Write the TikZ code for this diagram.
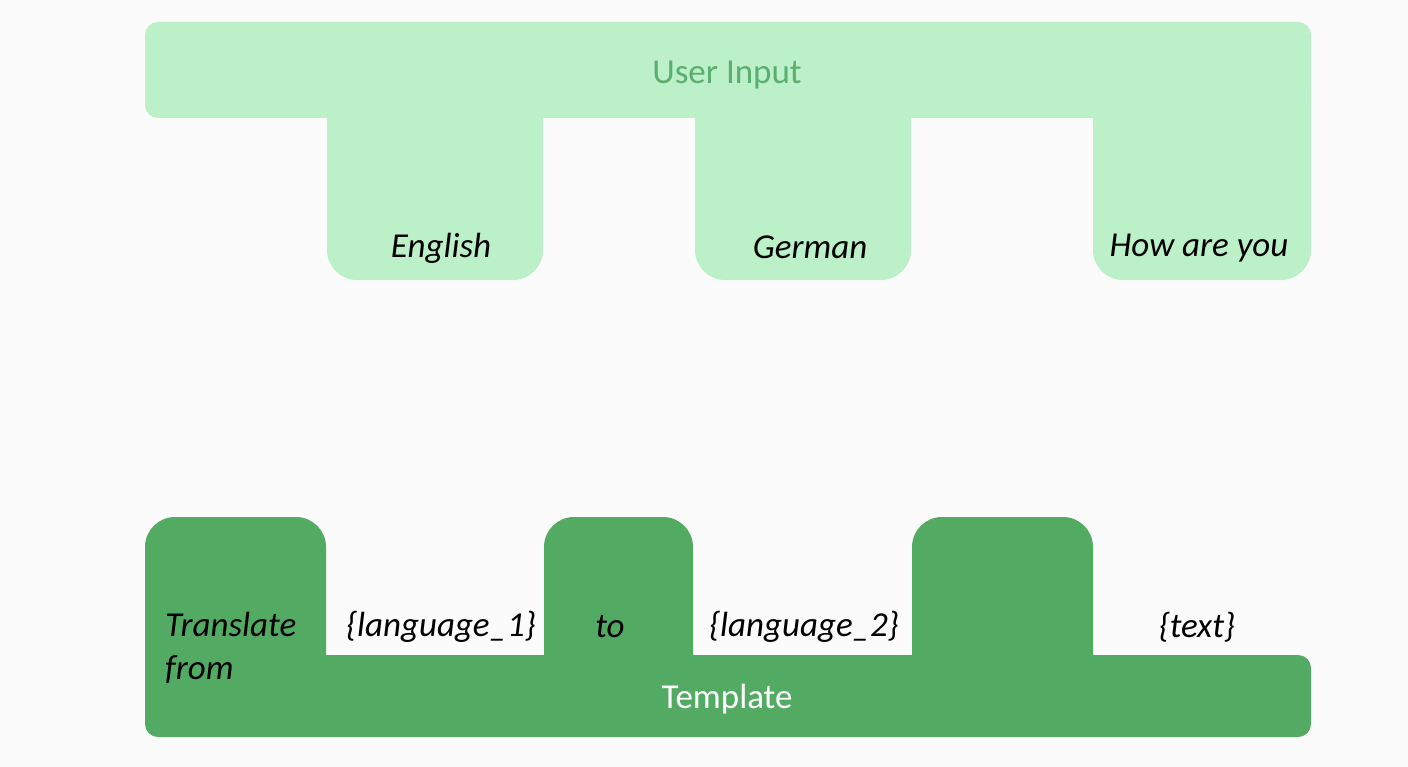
\documentclass[tikz,border=0pt]{standalone}
\usepackage{fontspec}
\setmainfont{Carlito}
\usepackage{tikz}
\usetikzlibrary{positioning}
\definecolor{inputgreen}{HTML}{BBF0C8}
\definecolor{inputtext}{HTML}{5BAE70}
\definecolor{templgreen}{HTML}{53AA63}
\definecolor{backgr}{HTML}{FBFBFB}

\begin{document}
\begin{tikzpicture}[x=1pt,y=-1pt,
    word/.style={font=\fontsize{35}{43}\selectfont\itshape,text=black,inner sep=0pt},
    title/.style={font=\fontsize{35}{40}\selectfont,inner sep=0pt}]
    \fill[backgr] (0,0) rectangle (1408,767);
    \useasboundingbox (0,0) rectangle (1408,767);
    % user input comb
    \fill[inputgreen,rounded corners=13pt] (145,22) rectangle (1311,118);
    \foreach \l/\r in {327/543,695/911,1093/1311}
      \fill[inputgreen,rounded corners=30pt] (\l,60) rectangle (\r,280);
    % template comb
    \fill[templgreen,rounded corners=13pt] (145,655) rectangle (1311,737);
    \foreach \l/\r in {145/326,544/693,912/1093}
      \fill[templgreen,rounded corners=30pt] (\l,517) rectangle (\r,700);
    \node[title,text=inputtext] (input) at (727,75) {User Input};
    \node[word] (english) at (441,248) {English};
    \node[word] (german) at (810,247) {German};
    \node[word] (howareyou) at (1199,248) {How are you};
    \node[word,align=left,anchor=west] (translate) at (165,648) {Translate\\from};
    \node[word] (lang1) at (441,627) {\{language\_1\}};
    \node[word] (to) at (610,627) {to};
    \node[word] (lang2) at (804,627) {\{language\_2\}};
    \node[word] (text) at (1197,627) {\{text\}};
    \node[title,text=white] (template) at (727,699) {Template};
\end{tikzpicture}
\end{document}
